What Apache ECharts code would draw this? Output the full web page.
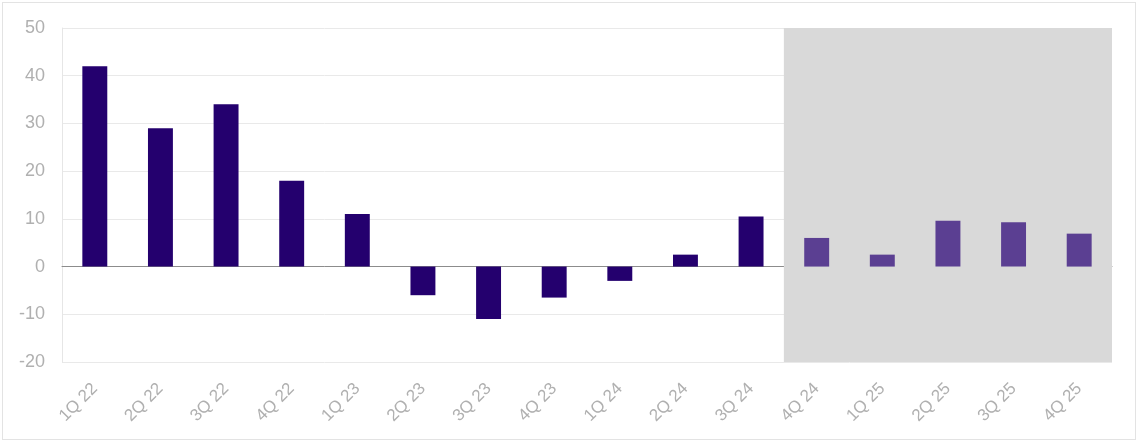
<!DOCTYPE html>
<html><head><meta charset="utf-8">
<script src="https://cdn.jsdelivr.net/npm/echarts@6/dist/echarts.min.js"></script>
<style>
html,body{margin:0;padding:0;background:#fff;}
#wrap{position:absolute;left:2px;top:2px;width:1134px;height:438px;border:1px solid #e3e3e3;box-sizing:border-box;}
#c{position:absolute;left:0;top:0;width:1140px;height:444px;}
</style></head>
<body><div id="wrap"></div><div id="c"></div>
<script>
const categories = ['1Q 22','2Q 22','3Q 22','4Q 22','1Q 23','2Q 23','3Q 23','4Q 23','1Q 24','2Q 24','3Q 24','4Q 24','1Q 25','2Q 25','3Q 25','4Q 25'];
const values = [42, 29, 34, 18, 11, -6, -11, -6.5, -3, 2.5, 10.5, 6, 2.5, 9.6, 9.3, 6.9];
const forecastStart = 11; // index of first forecast quarter
const yTicks = {min: -20, max: 50, interval: 10};

const actualColor = '#24006e';
const forecastColor = '#5b3f92';

const chart = echarts.init(document.getElementById('c'), null, {renderer: 'canvas'});
chart.setOption({
  animation: false,
  grid: {left: 62, right: 28, top: 28, bottom: 82},
  xAxis: [{
    type: 'category',
    data: categories,
    axisLine: {show: true, onZero: true, lineStyle: {color: '#8c8c8c', width: 1}},
    axisTick: {show: false},
    axisLabel: {rotate: 45, color: '#b0b0b0', fontFamily: 'Liberation Sans, Arial', fontSize: 17, margin: 24, interval: 0},
    splitLine: {show: false}
  }, {
    type: 'value', min: 0, max: categories.length, show: false
  }],
  yAxis: {
    type: 'value',
    min: yTicks.min, max: yTicks.max, interval: yTicks.interval,
    axisLine: {show: true, lineStyle: {color: '#e6e6e6'}},
    axisTick: {show: false},
    axisLabel: {color: '#b0b0b0', fontFamily: 'Liberation Sans, Arial', fontSize: 18, margin: 17},
    splitLine: {lineStyle: {color: '#e9e9e9', width: 1}}
  },
  series: [{
    type: 'line',
    xAxisIndex: 1,
    data: [],
    silent: true,
    markArea: {
      silent: true,
      itemStyle: {color: '#d9d9d9'},
      data: [[{xAxis: forecastStart, yAxis: yTicks.min}, {xAxis: categories.length, yAxis: yTicks.max}]]
    },
    z: 0
  }, {
    type: 'bar',
    data: values.map((v, i) => ({value: v, itemStyle: {color: i >= forecastStart ? forecastColor : actualColor}})),
    barWidth: '38%',
    z: 2
  }]
});
</script>
</body></html>
